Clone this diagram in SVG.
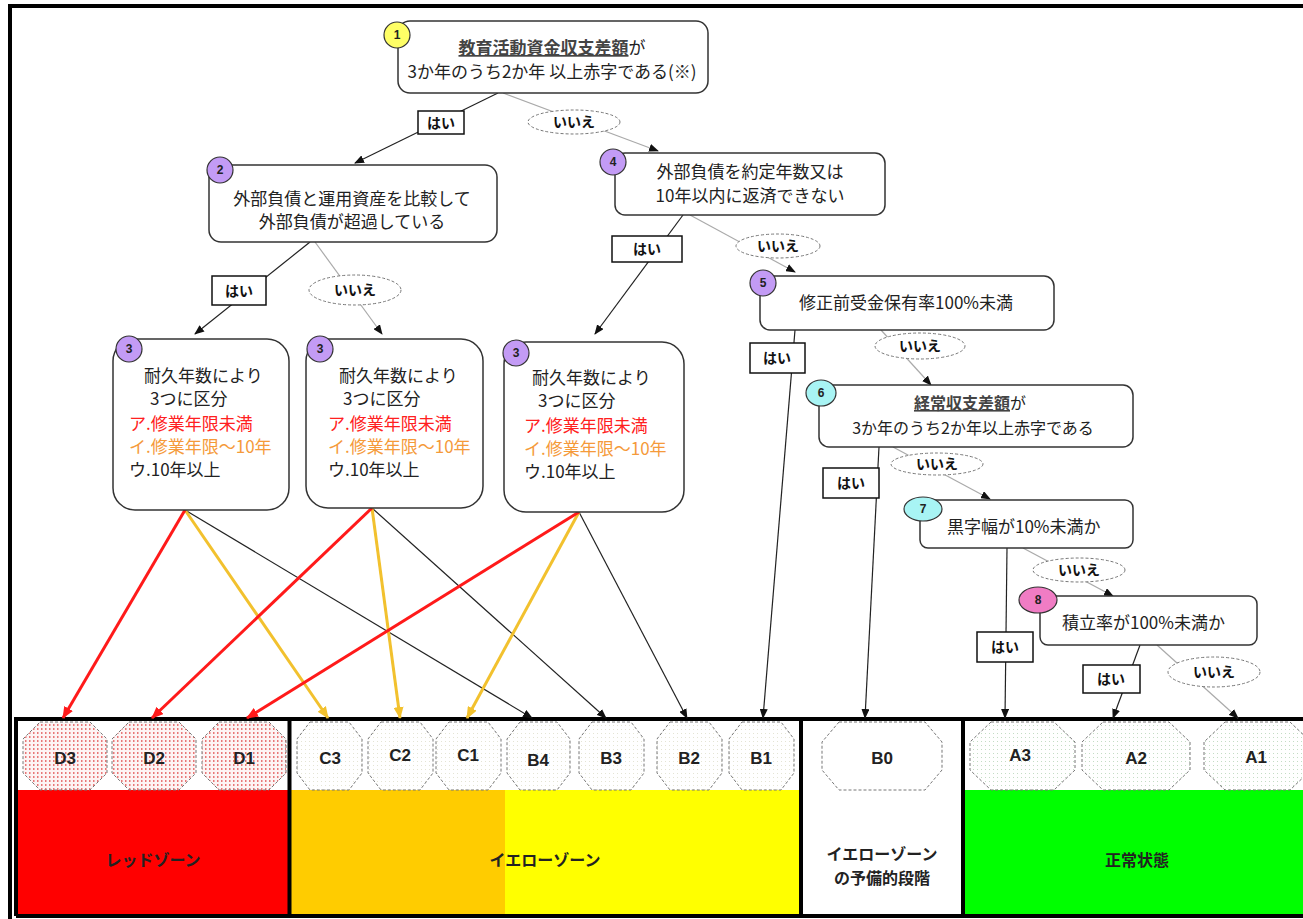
<svg xmlns="http://www.w3.org/2000/svg" width="1303" height="919" viewBox="0 0 1303 919">
<style>
.box{fill:#fff;stroke:#333;stroke-width:1.5}
.t{font-family:"Noto Sans CJK JP","Noto Sans",sans-serif;fill:#222;font-size:17px}
.t.red{fill:#ff2020}
.t.org{fill:#f59a3a}
.u{text-decoration:underline;font-weight:bold;fill:#444}
.lb{font-family:"Noto Sans CJK JP","Noto Sans",sans-serif;font-weight:bold;fill:#111;font-size:14px;text-anchor:middle}
.yes{fill:#fff;stroke:#111;stroke-width:1.5}
.no{fill:#fff;stroke:#777;stroke-width:1;stroke-dasharray:3 2}
.num{font-family:"Liberation Sans",sans-serif;font-weight:bold;font-size:12px;text-anchor:middle;fill:#222}
.gl{stroke:#aaa;stroke-width:1.2;fill:none}
.bl{stroke:#222;stroke-width:1.2;fill:none}
.rl{stroke:#ff1a1a;stroke-width:3;fill:none}
.yl{stroke:#f2c12e;stroke-width:3;fill:none}
.oct{stroke:#777;stroke-width:1;stroke-dasharray:3 2}
.code{font-family:"Liberation Sans",sans-serif;font-weight:bold;font-size:17px;text-anchor:middle;fill:#222}
.zone{font-family:"Noto Sans CJK JP",sans-serif;font-weight:bold;font-size:16px;text-anchor:middle;fill:#222}
.pu{fill:#c39bf5;stroke:#333;stroke-width:1.2}
.cy{fill:#a8f4f4;stroke:#333;stroke-width:1.2}
</style>
<defs>
<marker id="ab" markerWidth="10" markerHeight="8" refX="9" refY="4" orient="auto" markerUnits="userSpaceOnUse"><path d="M0,0 L10,4 L0,8 z" fill="#111"/></marker>
<marker id="ar" markerWidth="12" markerHeight="10" refX="11" refY="5" orient="auto" markerUnits="userSpaceOnUse"><path d="M0,0 L12,5 L0,10 z" fill="#ff1a1a"/></marker>
<marker id="ay" markerWidth="12" markerHeight="10" refX="11" refY="5" orient="auto" markerUnits="userSpaceOnUse"><path d="M0,0 L12,5 L0,10 z" fill="#f2c12e"/></marker>
<pattern id="pR" width="4" height="4" patternUnits="userSpaceOnUse"><rect width="4" height="4" fill="#fdf4f4"/><rect x="1" y="0" width="1.5" height="2" fill="#e87878"/></pattern>
<pattern id="pY" width="4" height="4" patternUnits="userSpaceOnUse"><rect width="4" height="4" fill="#fff"/><rect x="1" y="1" width="1" height="1" fill="#e4e4d4"/></pattern>
<pattern id="pG" width="4" height="4" patternUnits="userSpaceOnUse"><rect width="4" height="4" fill="#fff"/><rect x="1" y="1" width="1" height="1" fill="#c4dcc4"/></pattern>
</defs>
<rect width="1303" height="919" fill="#fff"/>
<line x1="8" y1="6" x2="1303" y2="6" stroke="#000" stroke-width="4"/>
<line x1="10" y1="4" x2="10" y2="919" stroke="#000" stroke-width="4"/>

<g id="zones">
<rect x="18" y="790" width="271" height="125" fill="#ff0000"/>
<rect x="291" y="790" width="214" height="125" fill="#ffcc00"/>
<rect x="505" y="790" width="296" height="125" fill="#ffff00"/>
<rect x="963" y="790" width="340" height="125" fill="#00ff00"/>
<path d="M16,916 V719 H1305 M289.5,719 V916 M801,719 V916 M963,719 V916 M16,916 H1305" fill="none" stroke="#000" stroke-width="4"/>
<text class="zone" x="153" y="866">レッドゾーン</text>
<text class="zone" x="545" y="866">イエローゾーン</text>
<text class="zone" x="882" y="860">イエローゾーン</text>
<text class="zone" x="882" y="884">の予備的段階</text>
<text class="zone" x="1137" y="866">正常状態</text>
</g>

<g id="outcomes">
<g id="D3"><polygon class="oct" fill="url(#pR)" points="40,722 90,722 107,739 107,773 90,790 40,790 23,773 23,739"/><text class="code" x="65" y="764">D3</text></g>
<g id="D2"><polygon class="oct" fill="url(#pR)" points="129,722 179,722 196,739 196,773 179,790 129,790 112,773 112,739"/><text class="code" x="154" y="764">D2</text></g>
<g id="D1"><polygon class="oct" fill="url(#pR)" points="219,722 269,722 286,739 286,773 269,790 219,790 202,773 202,739"/><text class="code" x="244" y="764">D1</text></g>
<g id="C3"><polygon class="oct" fill="url(#pY)" points="310,722 349,722 362,739 362,773 349,790 310,790 297,773 297,739"/><text class="code" x="330" y="764">C3</text></g>
<g id="C2"><polygon class="oct" fill="url(#pY)" points="381,722 420,722 433,739 433,773 420,790 381,790 368,773 368,739"/><text class="code" x="400" y="761">C2</text></g>
<g id="C1"><polygon class="oct" fill="url(#pY)" points="449,722 488,722 501,739 501,773 488,790 449,790 436,773 436,739"/><text class="code" x="468" y="761">C1</text></g>
<g id="B4"><polygon class="oct" fill="url(#pY)" points="520,722 557,722 570,739 570,773 557,790 520,790 507,773 507,739"/><text class="code" x="538" y="766">B4</text></g>
<g id="B3"><polygon class="oct" fill="url(#pY)" points="592,722 631,722 644,739 644,773 631,790 592,790 579,773 579,739"/><text class="code" x="611" y="764">B3</text></g>
<g id="B2"><polygon class="oct" fill="url(#pY)" points="670,722 709,722 722,739 722,773 709,790 670,790 657,773 657,739"/><text class="code" x="689" y="764">B2</text></g>
<g id="B1"><polygon class="oct" fill="url(#pY)" points="742,722 781,722 794,739 794,773 781,790 742,790 729,773 729,739"/><text class="code" x="761" y="764">B1</text></g>
<g id="B0"><polygon class="oct" fill="#fff" points="839,722 925,722 942,742 942,770 925,790 839,790 822,770 822,742"/><text class="code" x="882" y="764">B0</text></g>
<g id="A3"><polygon class="oct" fill="url(#pG)" points="991,722 1054,722 1075,742 1075,770 1054,790 991,790 970,770 970,742"/><text class="code" x="1020" y="761">A3</text></g>
<g id="A2"><polygon class="oct" fill="url(#pG)" points="1103,722 1169,722 1190,742 1190,770 1169,790 1103,790 1082,770 1082,742"/><text class="code" x="1136" y="764">A2</text></g>
<g id="A1"><polygon class="oct" fill="url(#pG)" points="1225,722 1290,722 1311,742 1311,770 1290,790 1225,790 1204,770 1204,742"/><text class="code" x="1256" y="763">A1</text></g>
</g>

<g id="connectors">
<line class="bl" x1="498" y1="93" x2="355" y2="163" marker-end="url(#ab)"/>
<line class="gl" x1="503" y1="93" x2="658" y2="151" marker-end="url(#ab)"/>
<line class="bl" x1="310" y1="242" x2="195" y2="334" marker-end="url(#ab)"/>
<line class="gl" x1="315" y1="242" x2="382" y2="334" marker-end="url(#ab)"/>
<line class="bl" x1="683" y1="215" x2="595" y2="334" marker-end="url(#ab)"/>
<line class="gl" x1="690" y1="215" x2="795" y2="272" marker-end="url(#ab)"/>
<line class="bl" x1="795" y1="330" x2="763" y2="718" marker-end="url(#ab)"/>
<line class="gl" x1="881" y1="330" x2="931" y2="385" marker-end="url(#ab)"/>
<line class="bl" x1="879" y1="447" x2="865" y2="718" marker-end="url(#ab)"/>
<line class="gl" x1="893" y1="447" x2="990" y2="499" marker-end="url(#ab)"/>
<line class="bl" x1="1007" y1="548" x2="1005" y2="718" marker-end="url(#ab)"/>
<line class="gl" x1="1023" y1="548" x2="1113" y2="596" marker-end="url(#ab)"/>
<line class="bl" x1="1140" y1="645" x2="1113" y2="718" marker-end="url(#ab)"/>
<line class="gl" x1="1157" y1="645" x2="1238" y2="718" marker-end="url(#ab)"/>
<line class="bl" x1="185" y1="510" x2="532" y2="718" marker-end="url(#ab)"/>
<line class="bl" x1="372" y1="508" x2="606" y2="718" marker-end="url(#ab)"/>
<line class="bl" x1="579" y1="512" x2="687" y2="718" marker-end="url(#ab)"/>
<line class="yl" x1="185" y1="510" x2="328" y2="718" marker-end="url(#ay)"/>
<line class="yl" x1="372" y1="508" x2="400" y2="718" marker-end="url(#ay)"/>
<line class="yl" x1="579" y1="512" x2="467" y2="718" marker-end="url(#ay)"/>
<line class="rl" x1="185" y1="510" x2="63" y2="718" marker-end="url(#ar)"/>
<line class="rl" x1="372" y1="508" x2="152" y2="718" marker-end="url(#ar)"/>
<line class="rl" x1="579" y1="512" x2="247" y2="718" marker-end="url(#ar)"/>
<rect class="yes" x="418" y="111" width="46" height="23"/><text class="lb" x="441" y="128">はい</text>
<ellipse class="no" cx="574" cy="122" rx="46" ry="12"/><text class="lb" x="574" y="127">いいえ</text>
<rect class="yes" x="212" y="276" width="54" height="29"/><text class="lb" x="239" y="296">はい</text>
<ellipse class="no" cx="355" cy="290" rx="46" ry="15"/><text class="lb" x="355" y="295">いいえ</text>
<rect class="yes" x="612" y="236" width="70" height="26"/><text class="lb" x="647" y="254">はい</text>
<ellipse class="no" cx="778" cy="246" rx="42" ry="12"/><text class="lb" x="778" y="251">いいえ</text>
<rect class="yes" x="750" y="343" width="55" height="30"/><text class="lb" x="777" y="363">はい</text>
<ellipse class="no" cx="920" cy="346" rx="45" ry="13"/><text class="lb" x="920" y="351">いいえ</text>
<rect class="yes" x="823" y="468" width="56" height="30"/><text class="lb" x="851" y="488">はい</text>
<ellipse class="no" cx="937" cy="464" rx="46" ry="11"/><text class="lb" x="937" y="469">いいえ</text>
<rect class="yes" x="977" y="632" width="56" height="30"/><text class="lb" x="1005" y="652">はい</text>
<ellipse class="no" cx="1079" cy="570" rx="46" ry="12"/><text class="lb" x="1079" y="575">いいえ</text>
<rect class="yes" x="1083" y="665" width="57" height="28"/><text class="lb" x="1111" y="684">はい</text>
<ellipse class="no" cx="1214" cy="672" rx="46" ry="15"/><text class="lb" x="1214" y="677">いいえ</text>
</g>

<g id="n1">
<rect class="box" x="398" y="21" width="310" height="72" rx="12"/>
<circle cx="397" cy="35" r="13" fill="#ffff66" stroke="#333" stroke-width="1.2"/><text class="num" x="397" y="39">1</text>
<text class="t" x="552" y="54" text-anchor="middle"><tspan class="u">教育活動資金収支差額</tspan>が</text>
<text class="t" x="552" y="78" text-anchor="middle">3か年のうち2か年 以上赤字である(※)</text>
</g>
<g id="n2">
<rect class="box" x="209" y="165" width="288" height="77" rx="12"/>
<circle class="pu" cx="220" cy="170" r="13"/><text class="num" x="220" y="174">2</text>
<text class="t" x="352" y="205" text-anchor="middle">外部負債と運用資産を比較して</text>
<text class="t" x="352" y="228" text-anchor="middle">外部負債が超過している</text>
</g>
<g id="n4">
<rect class="box" x="615" y="153" width="270" height="62" rx="10"/>
<circle class="pu" cx="613" cy="162" r="13"/><text class="num" x="613" y="166">4</text>
<text class="t" x="750" y="178" text-anchor="middle">外部負債を約定年数又は</text>
<text class="t" x="750" y="202" text-anchor="middle">10年以内に返済できない</text>
</g>
<g id="n3a">
<rect class="box" x="113" y="339" width="176" height="171" rx="22"/>
<circle class="pu" cx="129" cy="349" r="13"/><text class="num" x="129" y="353">3</text>
<text class="t" x="144" y="382">耐久年数により</text>
<text class="t" x="150" y="405">3つに区分</text>
<text class="t red" x="129" y="430">ア.修業年限未満</text>
<text class="t org" x="129" y="453">イ.修業年限～10年</text>
<text class="t" x="129" y="476">ウ.10年以上</text>
</g>
<g id="n3b">
<rect class="box" x="306" y="339" width="177" height="169" rx="22"/>
<circle class="pu" cx="320" cy="349" r="13"/><text class="num" x="320" y="353">3</text>
<text class="t" x="339" y="382">耐久年数により</text>
<text class="t" x="343" y="405">3つに区分</text>
<text class="t red" x="328" y="430">ア.修業年限未満</text>
<text class="t org" x="328" y="453">イ.修業年限～10年</text>
<text class="t" x="328" y="476">ウ.10年以上</text>
</g>
<g id="n3c">
<rect class="box" x="504" y="342" width="180" height="170" rx="22"/>
<circle class="pu" cx="516" cy="353" r="13"/><text class="num" x="516" y="357">3</text>
<text class="t" x="532" y="384">耐久年数により</text>
<text class="t" x="538" y="407">3つに区分</text>
<text class="t red" x="524" y="432">ア.修業年限未満</text>
<text class="t org" x="524" y="455">イ.修業年限～10年</text>
<text class="t" x="524" y="478">ウ.10年以上</text>
</g>
<g id="n5">
<rect class="box" x="760" y="276" width="294" height="54" rx="10"/>
<circle class="pu" cx="763" cy="283" r="13"/><text class="num" x="763" y="287">5</text>
<text class="t" x="906" y="309" text-anchor="middle">修正前受金保有率100%未満</text>
</g>
<g id="n6">
<rect class="box" x="819" y="385" width="314" height="62" rx="10"/>
<ellipse class="cy" cx="821" cy="393" rx="15" ry="13"/><text class="num" x="821" y="397">6</text>
<text class="t" x="970" y="409" text-anchor="middle" style="font-size:16px"><tspan class="u">経常収支差額</tspan>が</text>
<text class="t" x="973" y="434" text-anchor="middle" style="font-size:16px">3か年のうち2か年以上赤字である</text>
</g>
<g id="n7">
<rect class="box" x="920" y="500" width="213" height="48" rx="8"/>
<ellipse class="cy" cx="923" cy="509" rx="19" ry="12"/><text class="num" x="923" y="513">7</text>
<text class="t" x="947" y="533">黒字幅が10%未満か</text>
</g>
<g id="n8">
<rect class="box" x="1040" y="596" width="217" height="49" rx="8"/>
<ellipse cx="1038" cy="600" rx="19" ry="13" fill="#f07cc4" stroke="#333" stroke-width="1.2"/><text class="num" x="1038" y="604">8</text>
<text class="t" x="1062" y="629">積立率が100%未満か</text>
</g>
</svg>
